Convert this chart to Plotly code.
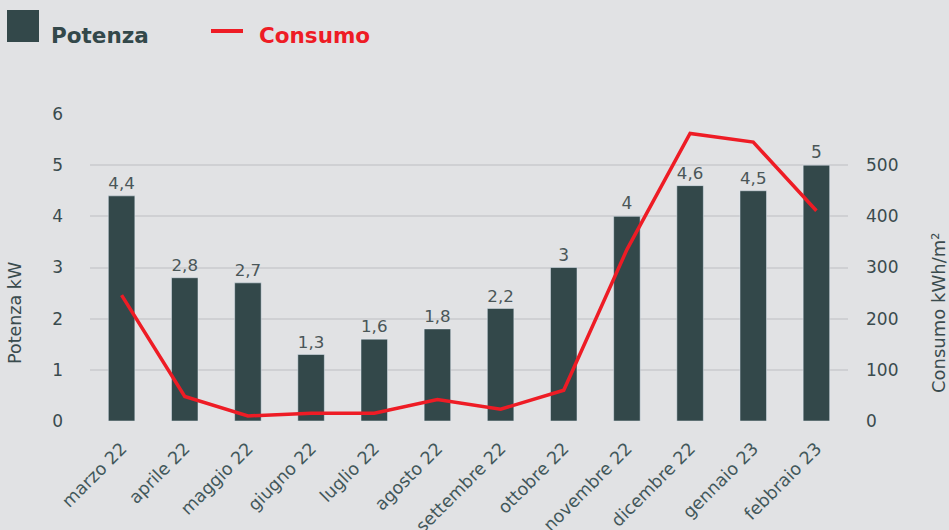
import plotly.graph_objects as go

months = ["marzo 22", "aprile 22", "maggio 22", "giugno 22", "luglio 22", "agosto 22",
          "settembre 22", "ottobre 22", "novembre 22", "dicembre 22", "gennaio 23", "febbraio 23"]
potenza = [4.4, 2.8, 2.7, 1.3, 1.6, 1.8, 2.2, 3, 4, 4.6, 4.5, 5]
consumo = [246, 48, 10, 15, 15, 42, 23, 60, 335, 562, 545, 411]
left_ticks = [0, 1, 2, 3, 4, 5, 6]
right_ticks = [0, 100, 200, 300, 400, 500]

BG = "#e1e2e4"
BAR = "#33484a"
RED = "#ee1c25"
TXT = "#3a4b4e"
FONT = "DejaVu Sans"

labels = [str(v).replace(".", ",") for v in potenza]

L, R, T, B = 90, 101, 114, 109
W, H = 949, 530
PW, PH = W - L - R, H - T - B

fig = go.Figure()
fig.add_trace(go.Bar(
    x=months, y=potenza, marker_color=BAR, width=0.42,
    text=labels, textposition="outside", cliponaxis=False,
    textfont=dict(size=17, color="#4a5658", family=FONT),
    showlegend=False, hoverinfo="skip"))
fig.add_trace(go.Scatter(
    x=months, y=consumo, yaxis="y2", mode="lines",
    line=dict(color=RED, width=3.5), showlegend=False))


def px(x):
    return (x - L) / PW


def py(y):
    return (H - B - y) / PH


fig.update_layout(
    width=W, height=H,
    paper_bgcolor=BG, plot_bgcolor=BG,
    margin=dict(l=L, r=R, t=T, b=B, autoexpand=False),
    font=dict(family=FONT, color=TXT),
    xaxis=dict(tickangle=-45, tickfont=dict(size=17.5, color="#42575a"),
               showgrid=False, ticks="", showline=False, zeroline=False,
               ticklabelstandoff=13, automargin=False),
    yaxis=dict(range=[0, 6], tickvals=left_ticks, showgrid=True,
               gridcolor="#cfd0d3", gridwidth=2, zeroline=False, automargin=False,
               tickfont=dict(size=17, color=TXT), ticklabelstandoff=26),
    yaxis2=dict(range=[0, 600], tickvals=right_ticks, overlaying="y", side="right",
                showgrid=False, zeroline=False, automargin=False,
                tickfont=dict(size=17, color=TXT), ticklabelstandoff=17),
    shapes=[
        dict(type="rect", xref="paper", yref="paper", x0=px(7), x1=px(39), y0=py(42), y1=py(10),
             fillcolor=BAR, line_width=0),
        dict(type="line", xref="paper", yref="paper", x0=px(211), x1=px(243), y0=py(31), y1=py(31),
             line=dict(color=RED, width=4)),
    ],
)

fig.add_annotation(xref="paper", yref="paper", x=px(49), y=py(35), xanchor="left", yanchor="middle",
                   text="<b>Potenza</b>", showarrow=False, font=dict(size=21.5, color=BAR, family=FONT))
fig.add_annotation(xref="paper", yref="paper", x=px(257), y=py(35), xanchor="left", yanchor="middle",
                   text="<b>Consumo</b>", showarrow=False, font=dict(size=21.5, color=RED, family=FONT))
fig.add_annotation(xref="paper", yref="paper", x=px(15), y=py(313), xanchor="center", yanchor="middle",
                   text="Potenza kW", textangle=-90, showarrow=False, font=dict(size=17.5, color=TXT, family=FONT))
fig.add_annotation(xref="paper", yref="paper", x=px(938), y=py(313), xanchor="center", yanchor="middle",
                   text="Consumo kWh/m²", textangle=-90, showarrow=False, font=dict(size=18, color=TXT, family=FONT))

fig.write_html("out.html", config={"displayModeBar": False},
               post_script="document.body.style.margin='0';document.body.style.overflow='hidden';")
